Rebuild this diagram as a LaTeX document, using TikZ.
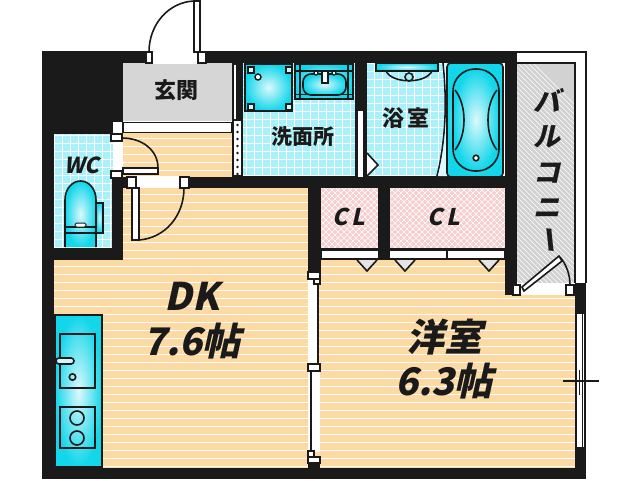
\documentclass[tikz,border=0pt]{standalone}
\usepackage{fontspec}
\newfontfamily\jpfont{Noto Sans CJK JP}
\newfontfamily\jpslant{Noto Sans CJK JP}[FakeSlant=0.22]
\definecolor{wallc}{HTML}{1A1A1A}
\definecolor{floorc}{HTML}{FDD9A3}
\definecolor{tilec}{HTML}{A9F1FA}
\definecolor{pinkc}{HTML}{F7CFCF}
\definecolor{greyc}{HTML}{D2D2D2}
\definecolor{cyanc}{HTML}{12D6EA}
\tikzset{
wall/.style={fill=wallc,draw=none},
outline/.style={draw=wallc,line width=1.6pt},
opening/.style={fill=white,draw=wallc,line width=1.6pt},
fixture/.style={draw=wallc,line width=1.6pt,inner color=white!85!cyanc,outer color=cyanc},
room/.style={text=wallc,font=\jpfont\bfseries\fontsize{22}{22}\selectfont},
bigroom/.style={text=wallc,font=\jpslant\bfseries\fontsize{38}{38}\selectfont}
}
\begin{document}
\begin{tikzpicture}[x=1pt,y=-1pt]
\useasboundingbox (0,0) rectangle (640,480);
\fill[white] (0,0) rectangle (640,480);

% floors
\fill[floorc] (54,188) rectangle (575,468);
\fill[floorc] (123,133) rectangle (233,188);
\begin{scope}
\clip (54,188) rectangle (575,468) (123,133) rectangle (233,188);
\foreach \y in {138,146,...,466} \draw[white,line width=.7pt] (54,\y) -- (575,\y);
\end{scope}
\fill[greyc!90!white] (123,63) rectangle (233,121);

% tiles
\fill[tilec] (54,134) rectangle (113,248);
\fill[tilec] (243,63) rectangle (355,176);
\fill[tilec] (367,63) rectangle (447,176);
\begin{scope}
\clip (54,134) rectangle (113,248) (243,63) rectangle (355,176) (367,63) rectangle (447,176);
\foreach \x in {54,62,...,446} \draw[white,line width=.7pt] (\x,60) -- (\x,250);
\foreach \y in {63,71,...,247} \draw[white,line width=.7pt] (50,\y) -- (450,\y);
\end{scope}

% closets
\fill[pinkc] (321,188) rectangle (378,248);
\fill[pinkc] (390,188) rectangle (505,248);
\begin{scope}
\clip (321,188) rectangle (378,248) (390,188) rectangle (505,248);
\foreach \x in {130,136,...,500} {
\draw[white,line width=.5pt] (\x,180) -- (\x+80,260);
\draw[white,line width=.5pt] (\x+140,180) -- (\x+60,260);
}
\end{scope}

% balcony
\draw[wallc,line width=1.2pt] (517,52) -- (586,52) -- (586,283);
\fill[greyc] (517,63) rectangle (575,283);
\begin{scope}
\clip (517,63) rectangle (575,283);
\foreach \y in {40,45,...,300} \draw[white,line width=.7pt] (510,\y) -- (590,\y+80);
\end{scope}
\draw[wallc,line width=2pt] (517,63) -- (575,63) -- (575,283);

% walls
\fill[wall] (42,51) rectangle (517,63);
\fill[wall] (42,63) rectangle (123,122);
\fill[wall] (42,122) rectangle (113,134);
\fill[wall] (42,63) rectangle (54,479);
\fill[wall] (42,468) rectangle (586,479);
\fill[wall] (42,248) rectangle (123,260);
\fill[wall] (112,178) rectangle (123,260);
\fill[wall] (123,177) rectangle (136,188);
\fill[wall] (180,177) rectangle (308,188);
\fill[wall] (237,63) rectangle (243,178);
\fill[wall] (233,176) rectangle (505,188);
\fill[wall] (355,63) rectangle (367,188);
\fill[wall] (308,188) rectangle (321,272);
\fill[wall] (378,188) rectangle (390,260);
\fill[wall] (321,248) rectangle (505,260);
\fill[wall] (505,52) rectangle (517,295);
\fill[wall] (575,283) rectangle (586,313);
\fill[wall] (575,448) rectangle (586,479);
\fill[wall] (308,460) rectangle (320,468);

% entrance door
\fill[white] (152,50) rectangle (198,64);
\draw[opening] (146,52) rectangle (152,63);
\draw[opening] (198,52) rectangle (206,63);
\draw[opening] (194,1) rectangle (200,52);
\draw[outline] (149,52) .. controls (149,24) and (169,2) .. (194,1);

% hall strips
\draw[opening] (123,122.5) rectangle (232,132.5);
\draw[opening] (233,64) rectangle (237,120);
\draw[opening] (233,120) rectangle (242,176);
\foreach \y in {125,132,...,174} \fill[wallc] (237.5,\y) circle (1.3);

% wc door
\fill[white] (113,134) rectangle (123,177);
\draw[opening] (111,134) rectangle (122,141);
\draw[opening] (111,171) rectangle (122,178);
\draw[opening] (123,168) rectangle (158,174);
\draw[outline] (122,138) .. controls (142,138) and (158,150) .. (158,168);

% dk door
\fill[white] (136,176) rectangle (180,188);
\draw[opening] (127,177) rectangle (136,188);
\draw[opening] (180,177) rectangle (189,188);
\draw[opening] (132,188) rectangle (139,240);
\draw[outline] (139,240) .. controls (165,238) and (184,216) .. (184,188);

% bath door
\draw[opening] (357,110) rectangle (364,178);
\draw[opening] (367,153) -- (378,165) -- (367,176);

% closet doors
\draw[opening] (321,250) rectangle (379,259);
\draw[opening] (389,250) rectangle (447,259);
\draw[opening] (447,250) rectangle (505,259);
\foreach \x in {367,405,489} \draw[fill=greyc!60!white,draw=wallc,line width=1.6pt] (\x-10,260) -- (\x,271) -- (\x+10,260);

% balcony door
\fill[white] (517,283) rectangle (575,295);
\draw[opening] (513,285) rectangle (520,295);
\draw[opening] (566,285) rectangle (574,295);
\draw[opening] (522,287) -- (559,256) -- (562,261) -- (524,291) -- cycle;
\draw[outline] (560,257) .. controls (566,264) and (570,274) .. (570,285);

% partition doors
\fill[white] (308,272) rectangle (318,452);
\fill[white] (312,365) rectangle (320,452);
\draw[wallc,line width=2pt] (318,284) -- (318,364);
\draw[wallc,line width=2pt] (311,371) -- (311,451);
\draw[opening] (308,272) rectangle (320,279);
\draw[opening] (314,279) rectangle (320,284);
\draw[opening] (308,364) rectangle (320,371);
\draw[opening] (308,451) rectangle (314,457);
\draw[opening] (308,457) rectangle (320,463);

% window
\fill[white] (575,313) rectangle (586,448);
\draw[wallc,line width=2pt] (576,313) -- (576,448) -- (585,448) -- (585,313) -- cycle;
\draw[wallc,line width=.8pt] (582,313) -- (582,448);
\draw[wallc,line width=.8pt] (579,370) -- (579,395);
\draw[wallc,line width=1.2pt] (563,381) -- (599,381);

% kitchen
\fill[fixture] (55,315) rectangle (102,467);
\draw[wallc,line width=1.6pt,fill=none] (60,334) rectangle (95,388);
\draw[wallc,line width=1.6pt] (60,407) rectangle (95,448);
\draw[wallc,line width=1.6pt,fill=white!80!cyanc,rounded corners=3pt] (56,358) rectangle (74,364);
\draw[wallc,line width=1.6pt] (72.5,377) circle (3.2);
\draw[wallc,line width=1.6pt] (77,418) circle (7);
\draw[wallc,line width=1.6pt] (77,438) circle (7);

% toilet
\draw[fixture] (96,203) rectangle (103,233);
\draw[fixture] (65,247) -- (65,200) .. controls (65,189) and (72,181) .. (80.5,181) .. controls (89,181) and (96,189) .. (96,200) -- (96,247);
\draw[wallc,line width=1.4pt] (65,227) -- (96,227);
\draw[wallc,line width=1.4pt] (65,233) -- (96,233);
\draw[wallc,line width=1pt,fill=white,rounded corners=1.5pt] (75,223) rectangle (86,227);

% washer pan
\draw[fixture,line width=2.4pt] (245,64) rectangle (292,111);
\foreach \x in {248,286} \foreach \y in {67,104} \draw[wallc,line width=1.4pt,fill=tilec!50!white] (\x,\y) rectangle (\x+6,\y+6);
\draw[wallc,line width=1.4pt,fill=white] (258,77) circle (3);

% wash basin
\draw[fixture] (295,64) rectangle (353,99);
\draw[wallc,line width=1.2pt] (300,64) -- (300,99) (348,64) -- (348,99) (295,71) -- (353,71) (295,94.5) -- (353,94.5);
\draw[fixture,rounded corners=8pt] (303,74) rectangle (346,95);
\draw[wallc,line width=1.2pt,fill=white] (322,71) rectangle (328,83);
\draw[wallc,line width=1.2pt,fill=white] (316,73) circle (2);
\draw[wallc,line width=1.2pt,fill=white] (334,73) circle (2);

% bath basin
\draw[wallc,line width=1.6pt] (386,71) .. controls (392,84) and (426,84) .. (432,71);
\draw[fixture] (376,63) rectangle (438,71);
\draw[wallc,line width=1.6pt,fill=tilec] (409,77) circle (4);

% tub
\draw[wallc,line width=1.6pt] (443,63) .. controls (447,100) and (446,140) .. (437,176);
\fill[white!60!tilec] (444,63) .. controls (448,100) and (447,140) .. (438,176) -- (447,176) -- (447,63) -- cycle;
\draw[fixture,rounded corners=4pt] (447,63) rectangle (503,177);
\draw[fixture,rounded corners=22pt] (453,69) rectangle (499,171);
\draw[wallc,line width=1.6pt] (455,90) .. controls (467,105) and (467,135) .. (455,150);
\draw[wallc,line width=1.6pt] (497,90) .. controls (485,105) and (485,135) .. (497,150);
\draw[wallc,line width=1.6pt,fill=white] (476,158) circle (2.8);

% labels
\node[room] (genkan) at (176,90) {玄関};
\node[room,font=\jpfont\bfseries\fontsize{21}{21}\selectfont] (senmen) at (303,137) {洗面所};
\node[room] (yokushitsu) at (406,118) {浴\,室};
\node[room,font=\jpslant\bfseries\fontsize{22}{22}\selectfont] (wc) at (82,165) {WC};
\node[room,font=\jpslant\bfseries\fontsize{23}{23}\selectfont] (clone) at (349,217) {C\,L};
\node[room,font=\jpslant\bfseries\fontsize{23}{23}\selectfont] (cltwo) at (444,217) {C\,L};
\node[bigroom] (dk) at (192,296) {DK};
\node[bigroom] (dksize) at (192,341) {7.6帖};
\node[bigroom] (yoshitsu) at (444,337) {洋室};
\node[bigroom] (yosize) at (444,381) {6.3帖};
\node[room,font=\jpslant\bfseries\fontsize{27}{27}\selectfont] (ba) at (547,100) {バ};
\node[room,font=\jpslant\bfseries\fontsize{27}{27}\selectfont] (ru) at (547,137) {ル};
\node[room,font=\jpslant\bfseries\fontsize{27}{27}\selectfont] (ko) at (547,173) {コ};
\node[room,font=\jpslant\bfseries\fontsize{27}{27}\selectfont] (ni) at (547,208) {ニ};
\node[room,font=\jpslant\bfseries\fontsize{27}{27}\selectfont,rotate=-84] (bar) at (546,238) {ー};
\end{tikzpicture}
\end{document}
